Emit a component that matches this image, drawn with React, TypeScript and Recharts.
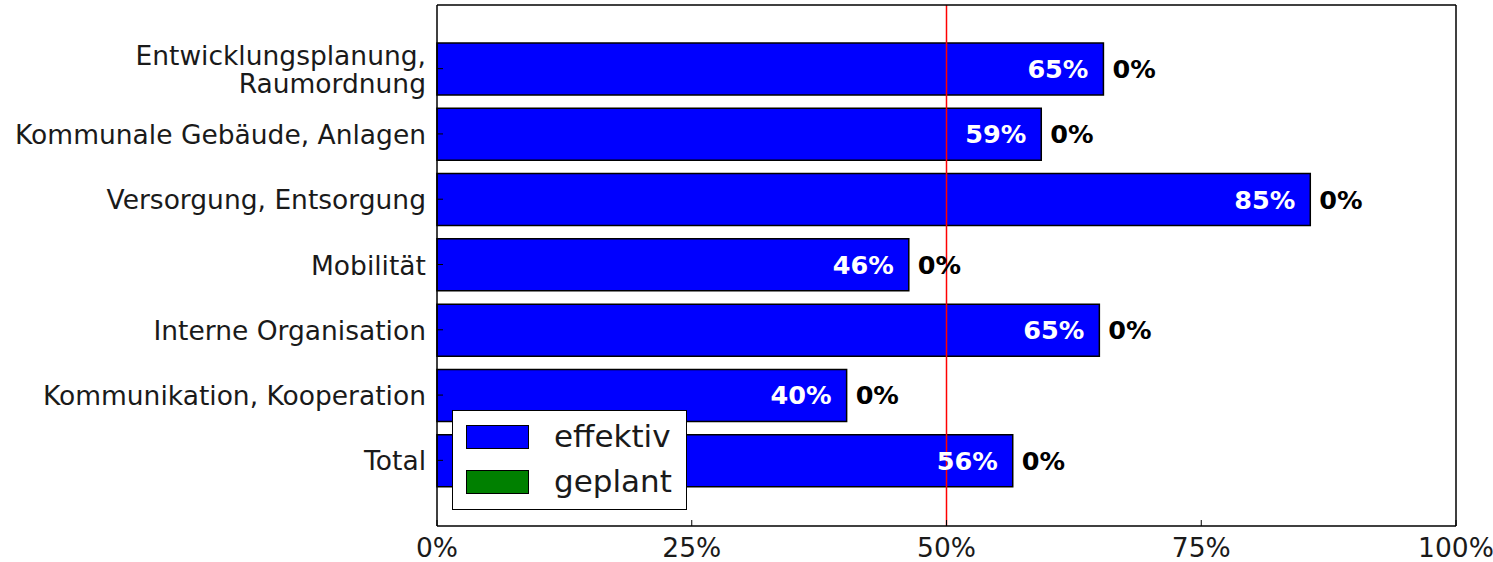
import React from 'react'
import {
  BarChart,
  Bar,
  XAxis,
  YAxis,
  Legend,
  LabelList,
  ReferenceLine,
} from 'recharts'

const categories = [
  'Entwicklungsplanung,\nRaumordnung',
  'Kommunale Gebäude, Anlagen',
  'Versorgung, Entsorgung',
  'Mobilität',
  'Interne Organisation',
  'Kommunikation, Kooperation',
  'Total',
]
const effektiv = [65.4, 59.3, 85.7, 46.3, 65.0, 40.2, 56.5]
const geplant = [0, 0, 0, 0, 0, 0, 0]
const xTicks = [0, 25, 50, 75, 100]

const FONT = '"DejaVu Sans", sans-serif'

const data = categories.map((name, i) => ({
  name,
  effektiv: effektiv[i],
  geplant: geplant[i],
}))

const pct = (v: any) => `${Math.floor(Number(v))}%`

function CategoryTick({ x, y, payload }: any) {
  const lines = String(payload.value).split('\n')
  const lh = 28
  const start = y - ((lines.length - 1) * lh) / 2
  return (
    <text
      x={x}
      y={start}
      textAnchor="end"
      dominantBaseline="central"
      fontFamily={FONT}
      fontSize={26.5}
      fill="#1a1a1a"
    >
      {lines.map((l, i) => (
        <tspan key={i} x={x} y={start + i * lh}>
          {l}
        </tspan>
      ))}
    </text>
  )
}

function LegendBox() {
  const items = [
    { label: 'effektiv', color: '#0000ff' },
    { label: 'geplant', color: '#008000' },
  ]
  return (
    <div
      style={{
        width: 235,
        height: 100,
        border: '1.5px solid #000',
        background: '#fff',
        boxSizing: 'border-box',
        paddingTop: 3,
        paddingLeft: 13,
        fontFamily: FONT,
      }}
    >
      {items.map((it) => (
        <div key={it.label} style={{ display: 'flex', alignItems: 'center', height: 45 }}>
          <div
            style={{
              width: 63,
              height: 24,
              background: it.color,
              border: '1.5px solid #000',
              boxSizing: 'border-box',
            }}
          />
          <span style={{ marginLeft: 25, fontSize: 31, color: '#1a1a1a', lineHeight: '45px' }}>
            {it.label}
          </span>
        </div>
      ))}
    </div>
  )
}

export default function App() {
  const axisLine = { stroke: '#000', strokeWidth: 1.5 }
  const tickLine = { stroke: '#000', strokeWidth: 1 }
  const yPad = { top: 31, bottom: 33 }
  return (
    <div style={{ position: 'absolute', left: 0, top: 0, background: '#fff' }}>
      <BarChart
        width={1493}
        height={562}
        data={data}
        layout="vertical"
        margin={{ top: 4, right: 36, bottom: 0, left: 0 }}
      >
        <XAxis
          type="number"
          domain={[0, 100]}
          ticks={xTicks}
          tickFormatter={(v) => `${v}%`}
          axisLine={axisLine}
          tickLine={tickLine}
          tickSize={-6}
          tickMargin={18}
          height={36}
          tick={{ fontFamily: FONT, fontSize: 26.5, fill: '#1a1a1a' }}
          interval={0}
        />
        <XAxis
          xAxisId="top"
          orientation="top"
          type="number"
          domain={[0, 100]}
          ticks={xTicks}
          axisLine={axisLine}
          tickLine={tickLine}
          tickSize={-6}
          tick={false}
          height={1}
          interval={0}
        />
        <YAxis
          type="category"
          dataKey="name"
          width={437}
          axisLine={axisLine}
          tickLine={tickLine}
          tickSize={-6}
          tickMargin={17}
          padding={yPad}
          tick={<CategoryTick />}
          interval={0}
        />
        <YAxis
          yAxisId="right"
          orientation="right"
          type="category"
          dataKey="name"
          width={1}
          axisLine={axisLine}
          tickLine={tickLine}
          tickSize={-6}
          padding={yPad}
          tick={false}
          interval={0}
        />
        <ReferenceLine x={50} stroke="#ff0000" strokeWidth={1.5} />
        <Bar
          dataKey="effektiv"
          name="effektiv"
          stackId="a"
          fill="#0000ff"
          stroke="#000"
          strokeWidth={1.5}
          barSize={52}
          isAnimationActive={false}
        >
          <LabelList
            dataKey="effektiv"
            position="insideRight"
            offset={15}
            formatter={pct}
            fill="#ffffff"
            fontFamily={FONT}
            fontSize={25.5}
            fontWeight="bold"
          />
          <LabelList
            dataKey="geplant"
            position="right"
            offset={9}
            formatter={pct}
            fill="#000000"
            fontFamily={FONT}
            fontSize={25.5}
            fontWeight="bold"
          />
        </Bar>
        <Bar
          dataKey="geplant"
          name="geplant"
          stackId="a"
          fill="#008000"
          stroke="#000"
          strokeWidth={1.5}
          barSize={52}
          isAnimationActive={false}
        />
        <Legend
          layout="horizontal"
          verticalAlign="middle"
          align="center"
          content={<LegendBox />}
          wrapperStyle={{ position: 'absolute', left: 452, top: 410, width: 'auto' }}
        />
      </BarChart>
    </div>
  )
}
